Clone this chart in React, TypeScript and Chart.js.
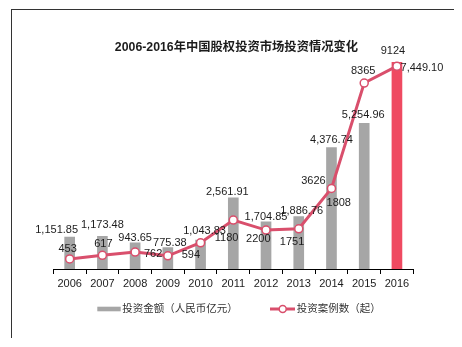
import React, { useEffect, useRef } from "react";
import { Chart, registerables } from "chart.js";

Chart.register(...registerables);

const chartTitle = "2006-2016年中国股权投资市场投资情况变化";
const years = ["2006", "2007", "2008", "2009", "2010", "2011", "2012", "2013", "2014", "2015", "2016"];
const investAmount = [1151.85, 1173.48, 943.65, 775.38, 1043.83, 2561.91, 1704.85, 1886.76, 4376.74, 5254.96, 7449.1];
const caseCount = [453, 617, 762, 594, 1180, 2200, 1751, 1808, 3626, 8365, 9124];
const seriesNames = ["投资金额（人民币亿元）", "投资案例数（起）"];

// label nudges (pixels) relative to the mark, as laid out in the original
const barLabelNudge = [[-13, -7], [0, -11], [0, -5], [2, -5], [4, -9], [-6, -6], [0, -5], [3, -6], [0, -8], [-1, -8], [25, 6]];
const lineLabelNudge = [[-2, -10], [1, -11], [18, 2], [23, -1], [26, -5], [25, 19], [26, 12], [40, -26], [-18, -7], [-1, -12], [-4, -15]];

const GRAY = "#a6a6a6";
const RED_BAR = "#ef4a61";
const LINE_RED = "#d94f6c";
const TEXT = "#1c1c1c";
const LATIN = '"Liberation Sans", Arial, sans-serif';
const CJK = '"Liberation Sans", "Noto Sans CJK SC", sans-serif';

const fmt = (v: number) => v.toLocaleString("en-US", { minimumFractionDigits: 2, maximumFractionDigits: 2 });

const decorPlugin = {
  id: "decor",
  afterDatasetsDraw(chart: any) {
    const ctx = chart.ctx;
    ctx.save();
    ctx.font = "11px " + LATIN;
    ctx.fillStyle = TEXT;
    ctx.textAlign = "center";
    ctx.textBaseline = "middle";
    chart.getDatasetMeta(0).data.forEach((el: any, i: number) => {
      const [dx, dy] = barLabelNudge[i];
      ctx.fillText(fmt(investAmount[i]), el.x + dx, el.y + dy);
    });
    chart.getDatasetMeta(1).data.forEach((el: any, i: number) => {
      const [dx, dy] = lineLabelNudge[i];
      ctx.fillText(String(caseCount[i]), el.x + dx, el.y + dy);
    });
    ctx.restore();
  },
  afterDraw(chart: any) {
    const ctx = chart.ctx;
    ctx.save();
    // title
    ctx.font = "bold 12.3px " + CJK;
    ctx.fillStyle = TEXT;
    ctx.textAlign = "center";
    ctx.textBaseline = "middle";
    ctx.fillText(chartTitle, 224.5, 38);
    // legend
    const ly = 299;
    ctx.fillStyle = GRAY;
    ctx.fillRect(85.3, ly - 2.3, 23.4, 4.6);
    ctx.font = "10.5px " + CJK;
    ctx.fillStyle = "#333";
    ctx.textAlign = "left";
    ctx.fillText(seriesNames[0], 110.3, ly);
    ctx.strokeStyle = LINE_RED;
    ctx.lineWidth = 3;
    ctx.beginPath();
    ctx.moveTo(258, ly);
    ctx.lineTo(283, ly);
    ctx.stroke();
    ctx.beginPath();
    ctx.arc(270.7, ly, 3.5, 0, Math.PI * 2);
    ctx.fillStyle = "#fff";
    ctx.fill();
    ctx.lineWidth = 1.5;
    ctx.stroke();
    ctx.fillStyle = "#333";
    ctx.fillText(seriesNames[1], 284.7, ly);
    ctx.restore();
  },
};

export default function App() {
  const ref = useRef<HTMLCanvasElement>(null);
  useEffect(() => {
    if (!ref.current) return;
    const chart = new Chart(ref.current, {
      type: "bar",
      data: {
        labels: years,
        datasets: [
          {
            type: "bar",
            label: seriesNames[0],
            data: investAmount,
            backgroundColor: investAmount.map((_, i) => (i === investAmount.length - 1 ? RED_BAR : GRAY)),
            barThickness: 10,
            yAxisID: "yBar",
            order: 1,
          },
          {
            type: "line",
            label: seriesNames[1],
            data: caseCount,
            borderColor: LINE_RED,
            borderWidth: 3,
            pointRadius: 4,
            pointBackgroundColor: "#fff",
            pointBorderColor: LINE_RED,
            pointBorderWidth: 1.5,
            tension: 0,
            yAxisID: "yLine",
            order: 0,
          },
        ],
      } as any,
      options: {
        responsive: false,
        animation: false,
        layout: { padding: { left: 41.3, right: 40.7, top: 50, bottom: 44.8 } },
        plugins: {
          legend: { display: false },
          title: { display: false },
          tooltip: { enabled: false },
        },
        scales: {
          x: {
            grid: { display: true, drawOnChartArea: false, drawTicks: true, tickLength: 5, color: "#000", offset: true },
            border: { display: true, color: "#000", width: 1 },
            ticks: { color: TEXT, font: { size: 11, family: LATIN }, padding: 3, maxRotation: 0, autoSkip: false },
          },
          yBar: { type: "linear", position: "left", display: false, min: 0, max: 7534 },
          yLine: { type: "linear", position: "right", display: false, min: 0, max: 9401 },
        },
      } as any,
      plugins: [decorPlugin],
    });
    return () => chart.destroy();
  }, []);
  return (
    <div style={{ position: "relative", left: 3, top: 1, width: 442, height: 328, border: "1px solid #333", background: "#fff" }}>
      <canvas ref={ref} width={442} height={328} style={{ display: "block" }} />
    </div>
  );
}
